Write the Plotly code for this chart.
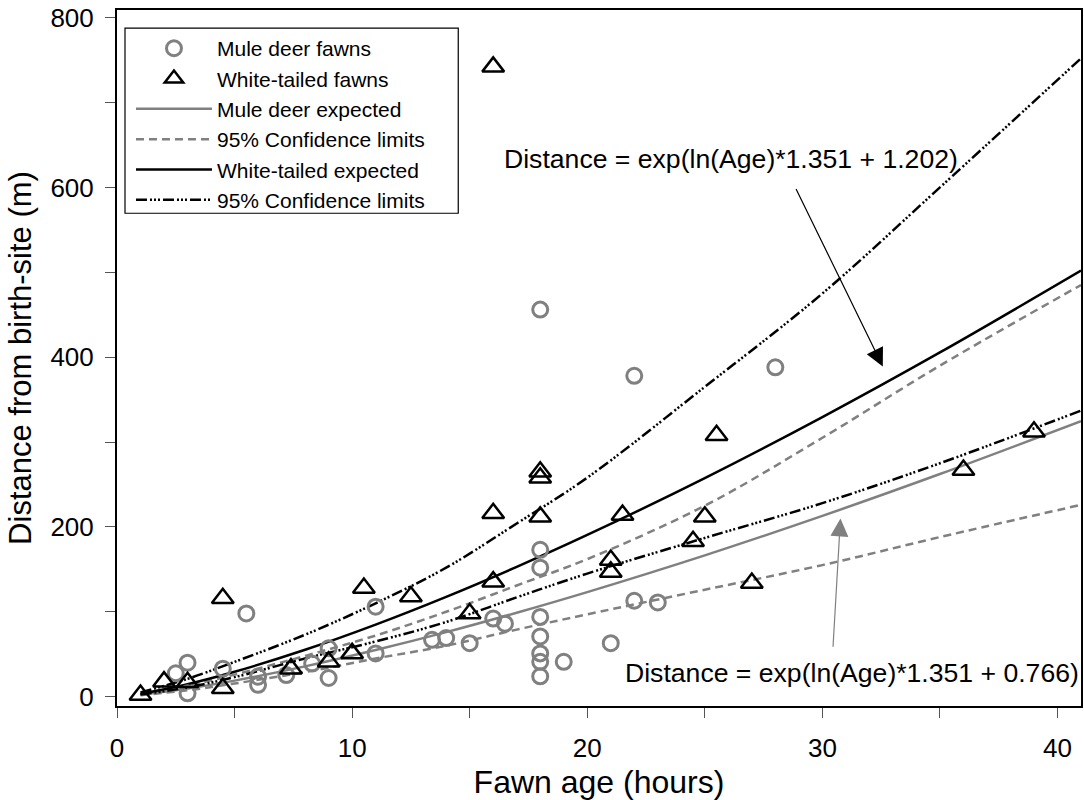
import plotly.graph_objects as go

# ---------------- data ----------------
mule_age = [2.5, 3, 3, 4.5, 5.5, 6, 6, 7.2, 8.3, 9, 9, 11, 11, 13.4, 14, 15, 16, 16.5,
            18, 18, 18, 18, 18, 18, 18, 18, 19, 21, 22, 22, 23, 28]
mule_dist = [27.5, 40, 4, 33, 98, 23.5, 14, 25.5, 39, 57, 22, 106, 51, 67, 69, 63, 92, 86,
             456, 173, 152, 94, 71, 51, 41, 24, 41, 63, 378, 113, 111, 388]

white_age = [1, 2, 3, 4.5, 4.5, 7.4, 9, 10, 10.5, 12.5, 15, 16, 16, 16, 18, 18, 18,
             21, 21, 21.5, 24.5, 25, 25.5, 27, 36, 39]
white_dist = [2, 17.7, 17, 116, 10, 33, 41, 51, 128, 118, 98, 742, 216, 135.5, 265, 258, 212,
              161, 147, 214, 183, 212, 308, 134, 267, 312]

curve_age = [1, 3, 5, 8, 11, 14, 17, 20, 25, 30, 35, 41]
mule_expected = [2.2, 9.5, 18.9, 35.7, 54.9, 76.0, 98.9, 123.2, 166.5, 213, 262.3, 324.6]
mule_upper = [3, 13, 26, 48, 72, 100, 131, 162, 225, 305, 390, 485]
mule_lower = [1.8, 7.5, 15.5, 29, 45, 60, 79, 97, 126, 155, 188, 226]
white_expected = [3.3, 14.7, 29.3, 55.2, 84.9, 117.6, 152.9, 190.5, 257.5, 329.4, 405.6, 502]
white_upper = [5, 21, 41, 73, 110, 152, 204, 258, 365, 475, 600, 752]
white_lower = [2.5, 11, 23, 45, 65, 88, 117, 145, 187, 228, 275, 337]

x_ticks = [0, 10, 20, 30, 40]
y_ticks = [0, 200, 400, 600, 800]

GRAY = "#808080"
FONT = "Liberation Sans, Arial, sans-serif"
DASHDOT = "11px,3px,2px,2px,2px,2px,2px,3px"

fig = go.Figure()

# lines
fig.add_trace(go.Scatter(x=curve_age, y=mule_expected, mode="lines", name="Mule deer expected",
                         line=dict(color=GRAY, width=2.5), line_shape="spline"))
fig.add_trace(go.Scatter(x=curve_age, y=mule_upper, mode="lines", name="95% Confidence limits",
                         legendgroup="mci", line=dict(color=GRAY, width=2.5, dash="8px,5px"),
                         line_shape="spline"))
fig.add_trace(go.Scatter(x=curve_age, y=mule_lower, mode="lines", name="95% Confidence limits",
                         legendgroup="mci", showlegend=False,
                         line=dict(color=GRAY, width=2.5, dash="8px,5px"), line_shape="spline"))
fig.add_trace(go.Scatter(x=curve_age, y=white_expected, mode="lines", name="White-tailed expected",
                         line=dict(color="black", width=2.5), line_shape="spline"))
fig.add_trace(go.Scatter(x=curve_age, y=white_upper, mode="lines", name="95% Confidence limits",
                         legendgroup="wci", line=dict(color="black", width=2.5, dash=DASHDOT),
                         line_shape="spline"))
fig.add_trace(go.Scatter(x=curve_age, y=white_lower, mode="lines", name="95% Confidence limits",
                         legendgroup="wci", showlegend=False,
                         line=dict(color="black", width=2.5, dash=DASHDOT), line_shape="spline"))

# markers
fig.add_trace(go.Scatter(x=mule_age, y=mule_dist, mode="markers", name="Mule deer fawns",
                         marker=dict(symbol="circle-open", size=15, color=GRAY,
                                     line=dict(width=3, color=GRAY))))
fig.add_trace(go.Scatter(x=white_age, y=white_dist, mode="markers", name="White-tailed fawns",
                         marker=dict(symbol="triangle-up-open", size=19, color="black",
                                     line=dict(width=2.5, color="black"))))

# legend order
order = {"Mule deer fawns": 1, "White-tailed fawns": 2, "Mule deer expected": 3,
         "White-tailed expected": 5}
for tr in fig.data:
    if tr.name in order:
        tr.legendrank = order[tr.name]
    elif tr.legendgroup == "mci":
        tr.legendrank = 4
    elif tr.legendgroup == "wci":
        tr.legendrank = 6

# annotations
fig.add_annotation(x=26.1, y=634, xref="x", yref="y", showarrow=False,
                   text="Distance = exp(ln(Age)*1.351 + 1.202)",
                   font=dict(size=26.6, color="black", family=FONT))
fig.add_annotation(x=32.57, y=389, xref="x", yref="y", ax=28.85, ay=600, axref="x", ayref="y",
                   showarrow=True, arrowhead=2, arrowsize=3, arrowwidth=1.2, arrowcolor="black",
                   text="")
fig.add_annotation(x=31.27, y=28.3, xref="x", yref="y", showarrow=False,
                   text="Distance = exp(ln(Age)*1.351 + 0.766)",
                   font=dict(size=26.6, color="black", family=FONT))
fig.add_annotation(x=30.77, y=210, xref="x", yref="y", ax=30.45, ay=57, axref="x", ayref="y",
                   showarrow=True, arrowhead=2, arrowsize=3, arrowwidth=1.2, arrowcolor=GRAY,
                   text="")

# legend frame (matches the reference box size)
fig.add_shape(type="rect", xref="paper", yref="paper", x0=0.0083, x1=0.354, y0=0.708, y1=0.974,
              line=dict(color="black", width=1.2), fillcolor="white", layer="above")

axis_common = dict(showline=True, linecolor="black", linewidth=2, mirror=True,
                   showgrid=False, zeroline=False, ticks="outside", ticklen=10,
                   tickcolor="#555555", tickwidth=1,
                   tickfont=dict(size=26, color="black", family=FONT))

fig.update_xaxes(range=[0, 41], tickvals=x_ticks, ticktext=[str(v) for v in x_ticks],
                 minor=dict(dtick=5, tick0=5, ticks="outside", ticklen=10, tickcolor="#555555"),
                 title=dict(text="Fawn age (hours)", font=dict(size=32, color="black", family=FONT),
                            standoff=8),
                 ticklabelstandoff=8, **axis_common)
fig.update_yaxes(range=[-11, 809], tickvals=y_ticks, ticktext=[str(v) for v in y_ticks],
                 minor=dict(dtick=200, tick0=100, ticks="outside", ticklen=10, tickcolor="#555555"),
                 title=dict(text="Distance from birth-site (m)",
                            font=dict(size=31, color="black", family=FONT), standoff=10),
                 ticklabelstandoff=6, **axis_common)

fig.update_layout(
    width=1084, height=800,
    margin=dict(l=117, r=1, t=10, b=94),
    paper_bgcolor="white", plot_bgcolor="white",
    font=dict(family=FONT, color="black"),
    legend=dict(x=0.0145, y=0.974, xanchor="left", yanchor="top",
                bgcolor="rgba(255,255,255,0)", borderwidth=0,
                font=dict(size=21, color="black", family=FONT),
                itemwidth=76, traceorder="normal", tracegroupgap=0),
)

fig.write_html("out.html")
